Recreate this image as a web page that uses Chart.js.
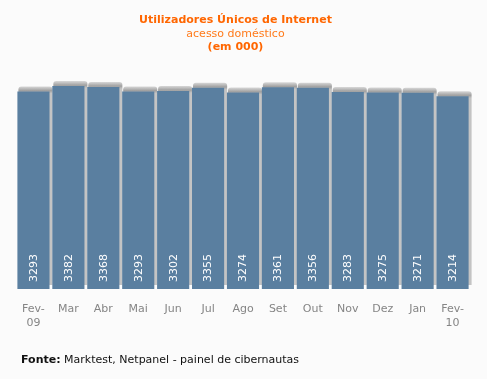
<!DOCTYPE html>
<html>
<head>
<meta charset="utf-8">
<script src="https://cdn.jsdelivr.net/npm/chart.js@4/dist/chart.umd.min.js"></script>
<style>
  html, body { margin: 0; padding: 0; background: #fbfbfb; }
  #wrap { position: relative; width: 487px; height: 379px; overflow: hidden; font-family: "DejaVu Sans", Verdana, sans-serif; }
  #c { position: absolute; left: 0; top: 0; }
  .t { position: absolute; left: 0; width: 471px; text-align: center; font-size: 11px; line-height: 13px; white-space: nowrap; }
  #t1 { top: 13px; font-weight: bold; color: #ff6600; }
  #t2 { top: 27px; color: #ff7a1a; }
  #t3 { top: 40px; font-weight: bold; color: #ff6600; }
  #foot { position: absolute; left: 21px; top: 353px; font-size: 11px; line-height: 13px; color: #111; white-space: nowrap; }
</style>
</head>
<body>
<div id="wrap">
  <canvas id="c" width="487" height="379"></canvas>
  <div class="t" id="t1">Utilizadores Únicos de Internet</div>
  <div class="t" id="t2">acesso doméstico</div>
  <div class="t" id="t3">(em 000)</div>
  <div id="foot"><b>Fonte:</b> Marktest, Netpanel - painel de cibernautas</div>
</div>
<script>
const categories = [["Fev-", "09"], "Mar", "Abr", "Mai", "Jun", "Jul", "Ago", "Set", "Out", "Nov", "Dez", "Jan", ["Fev-", "10"]];
const users = [3293, 3382, 3368, 3293, 3302, 3355, 3274, 3361, 3356, 3283, 3275, 3271, 3214];
const yMin = 0;
const yMax = 4000;

const shadowPlugin = {
  id: 'barShadow',
  beforeDatasetsDraw(chart) {
    const ctx = chart.ctx;
    const meta = chart.getDatasetMeta(0);
    ctx.save();
    meta.data.forEach(bar => {
      const w = bar.width;
      const left = bar.x - w / 2 + 1;
      const right = bar.x + w / 2 + 3;
      const top = bar.y - 5;
      const bottom = bar.base - 4;
      const g = ctx.createLinearGradient(0, top, 0, top + 7);
      g.addColorStop(0, '#d8d8d8');
      g.addColorStop(0.6, '#a0a0a0');
      g.addColorStop(1, '#c4c4c4');
      ctx.fillStyle = g;
      const r = 3;
      ctx.beginPath();
      ctx.moveTo(left, bottom);
      ctx.lineTo(left, top + r);
      ctx.quadraticCurveTo(left, top, left + r, top);
      ctx.lineTo(right - r, top);
      ctx.quadraticCurveTo(right, top, right, top + r);
      ctx.lineTo(right, bottom);
      ctx.closePath();
      ctx.fill();
    });
    ctx.restore();
  },
  afterDatasetsDraw(chart) {
    const ctx = chart.ctx;
    const meta = chart.getDatasetMeta(0);
    const base = chart.scales.y.getPixelForValue(0);
    meta.data.forEach((bar, i) => {
      ctx.save();
      ctx.font = '11px "DejaVu Sans", Verdana, sans-serif';
      ctx.textAlign = 'left';
      ctx.textBaseline = 'middle';
      ctx.fillStyle = '#ffffff';
      ctx.translate(bar.x + 0.5, base - 7);
      ctx.rotate(-Math.PI / 2);
      ctx.fillText(String(users[i]), 0, 0);
      ctx.restore();
    });
  }
};

const chart = new Chart(document.getElementById('c'), {
  type: 'bar',
  data: {
    labels: categories,
    datasets: [{
      data: users,
      backgroundColor: '#5a7fa0',
      borderWidth: 0,
      barPercentage: 0.92,
      categoryPercentage: 1.0
    }]
  },
  options: {
    responsive: false,
    animation: false,
    devicePixelRatio: 1,
    layout: { padding: { left: 16, right: 17, top: 49, bottom: 0 } },
    plugins: {
      legend: { display: false },
      tooltip: { enabled: false },
      title: { display: false }
    },
    scales: {
      x: {
        grid: { display: false, drawTicks: false },
        border: { display: false },
        ticks: {
          color: '#858585',
          font: { family: '"DejaVu Sans", Verdana, sans-serif', size: 11 },
          padding: 14,
          maxRotation: 0,
          autoSkip: false
        },
        afterFit(scale) { scale.height = 90; }
      },
      y: {
        display: false,
        min: yMin,
        max: yMax
      }
    }
  },
  plugins: [shadowPlugin]
});
</script>
</body>
</html>
